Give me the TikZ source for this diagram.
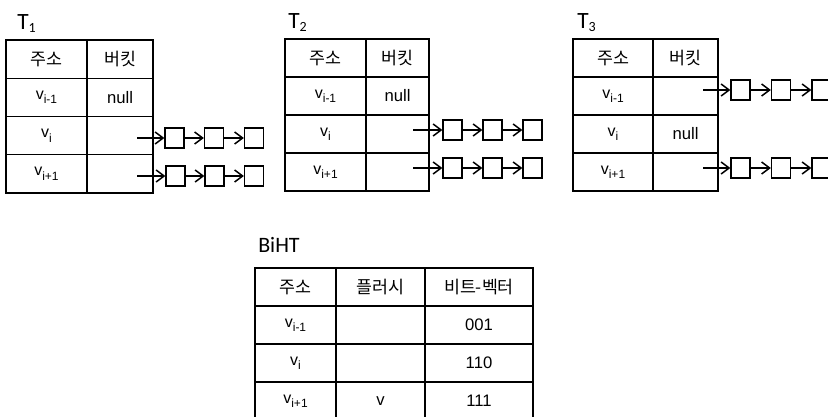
\documentclass[tikz,border=0pt]{standalone}
\usepackage{fontspec}
\setmainfont{Liberation Sans}
\newfontfamily\krfont{Noto Sans CJK KR}
\newfontfamily\labelfont{Carlito}
\usetikzlibrary{arrows.meta}

% variable name with a lowered index, e.g. v_{i-1}
\newcommand\vidx[1]{{\fontsize{12}{13}\selectfont v}\raisebox{-0.5ex}{\fontsize{9}{10}\selectfont #1}}
% table caption with a subscript index
\newcommand\tname[1]{T\raisebox{-0.25ex}{\fontsize{10.5}{11}\selectfont #1}}

\tikzset{
  cell/.style 2 args={draw, line width=1pt, inner sep=0pt,
    minimum width=#1*0.75pt, minimum height=#2*0.75pt,
    font=\fontsize{12.5}{14}\selectfont},
  hdr/.style={font=\krfont\fontsize{13}{15}\selectfont},
  caption/.style={anchor=base west, inner sep=0pt, font=\labelfont\fontsize{17.5}{20}\selectfont},
  linkbox/.style={draw, line width=1pt, inner sep=0pt,
    minimum width=19*0.75pt, minimum height=20*0.75pt},
  ptr/.style={line width=1.1pt, -{Straight Barb[length=6pt, width=9pt, line width=1.1pt]}}
}

\begin{document}
\begin{tikzpicture}[x=0.75pt, y=-0.75pt]
\clip (0,0) rectangle (828,417);
\fill[white] (0,0) rectangle (828,417);

% ---------------- T1 ----------------
\node[caption] (t1cap) at (17,30) {\tname{1}};
\node[cell={81}{38.25}, hdr] (t1h1) at (46.5,59.1) {주소};
\node[cell={66}{38.25}, hdr] (t1h2) at (120,59.1) {버킷};
\node[cell={81}{38.25}] (t1a1) at (46.5,97.4) {\vidx{i-1}};
\node[cell={66}{38.25}] (t1b1) at (120,97.4) {null};
\node[cell={81}{38.25}] (t1a2) at (46.5,135.6) {\vidx{i}};
\node[cell={66}{38.25}] (t1b2) at (120,135.6) {};
\node[cell={81}{38.25}] (t1a3) at (46.5,173.9) {\vidx{i+1}};
\node[cell={66}{38.25}] (t1b3) at (120,173.9) {};

\coordinate (t1s2) at (137,138);
\node[linkbox] (t1n21) at (174.5,138) {};
\node[linkbox] (t1n22) at (214,138) {};
\node[linkbox] (t1n23) at (254,138) {};
\draw[ptr] (t1s2) -- (t1n21.west);
\draw[ptr] (t1n21.east) -- (t1n22.west);
\draw[ptr] (t1n22.east) -- (t1n23.west);

\coordinate (t1s3) at (137,176);
\node[linkbox] (t1n31) at (175.5,176) {};
\node[linkbox] (t1n32) at (214.5,176) {};
\node[linkbox] (t1n33) at (254,176) {};
\draw[ptr] (t1s3) -- (t1n31.west);
\draw[ptr] (t1n31.east) -- (t1n32.west);
\draw[ptr] (t1n32.east) -- (t1n33.west);

% ---------------- T2 ----------------
\node[caption] (t2cap) at (288,29) {\tname{2}};
\node[cell={81}{38}, hdr] (t2h1) at (325.5,58) {주소};
\node[cell={63}{38}, hdr] (t2h2) at (397.5,58) {버킷};
\node[cell={81}{38}] (t2a1) at (325.5,96) {\vidx{i-1}};
\node[cell={63}{38}] (t2b1) at (397.5,96) {null};
\node[cell={81}{38}] (t2a2) at (325.5,134) {\vidx{i}};
\node[cell={63}{38}] (t2b2) at (397.5,134) {};
\node[cell={81}{38}] (t2a3) at (325.5,172) {\vidx{i+1}};
\node[cell={63}{38}] (t2b3) at (397.5,172) {};

\coordinate (t2s2) at (413,130);
\node[linkbox] (t2n21) at (452.5,130) {};
\node[linkbox] (t2n22) at (492.5,130) {};
\node[linkbox] (t2n23) at (532.5,130) {};
\draw[ptr] (t2s2) -- (t2n21.west);
\draw[ptr] (t2n21.east) -- (t2n22.west);
\draw[ptr] (t2n22.east) -- (t2n23.west);

\coordinate (t2s3) at (413,168);
\node[linkbox] (t2n31) at (452.5,168) {};
\node[linkbox] (t2n32) at (492.5,168) {};
\node[linkbox] (t2n33) at (532.5,168) {};
\draw[ptr] (t2s3) -- (t2n31.west);
\draw[ptr] (t2n31.east) -- (t2n32.west);
\draw[ptr] (t2n32.east) -- (t2n33.west);

% ---------------- T3 ----------------
\node[caption] (t3cap) at (577,29) {\tname{3}};
\node[cell={80}{38}, hdr] (t3h1) at (613,58) {주소};
\node[cell={65}{38}, hdr] (t3h2) at (685.5,58) {버킷};
\node[cell={80}{38}] (t3a1) at (613,96) {\vidx{i-1}};
\node[cell={65}{38}] (t3b1) at (685.5,96) {};
\node[cell={80}{38}] (t3a2) at (613,134) {\vidx{i}};
\node[cell={65}{38}] (t3b2) at (685.5,134) {null};
\node[cell={80}{38}] (t3a3) at (613,172) {\vidx{i+1}};
\node[cell={65}{38}] (t3b3) at (685.5,172) {};

\coordinate (t3s1) at (703,90);
\node[linkbox] (t3n11) at (740.5,90) {};
\node[linkbox] (t3n12) at (781,90) {};
\node[linkbox] (t3n13) at (821.5,90) {};
\draw[ptr] (t3s1) -- (t3n11.west);
\draw[ptr] (t3n11.east) -- (t3n12.west);
\draw[ptr] (t3n12.east) -- (t3n13.west);

\coordinate (t3s3) at (703,168);
\node[linkbox] (t3n31) at (740.5,168) {};
\node[linkbox] (t3n32) at (781,168) {};
\node[linkbox] (t3n33) at (821.5,168) {};
\draw[ptr] (t3s3) -- (t3n31.west);
\draw[ptr] (t3n31.east) -- (t3n32.west);
\draw[ptr] (t3n32.east) -- (t3n33.west);

% ---------------- BiHT ----------------
\node[caption, font=\labelfont\fontsize{16.5}{18}\selectfont] (bcap) at (258,252) {BiHT};
\node[cell={81}{38}, hdr] (bh1) at (295.5,287) {주소};
\node[cell={89}{38}, hdr] (bh2) at (380.5,287) {플러시};
\node[cell={108}{38}, hdr] (bh3) at (479,287) {비트-벡터};
\node[cell={81}{38}] (ba1) at (295.5,325) {\vidx{i-1}};
\node[cell={89}{38}] (bb1) at (380.5,325) {};
\node[cell={108}{38}] (bc1) at (479,325) {001};
\node[cell={81}{38}] (ba2) at (295.5,363) {\vidx{i}};
\node[cell={89}{38}] (bb2) at (380.5,363) {};
\node[cell={108}{38}] (bc2) at (479,363) {110};
\node[cell={81}{38}] (ba3) at (295.5,401) {\vidx{i+1}};
\node[cell={89}{38}] (bb3) at (380.5,401) {v};
\node[cell={108}{38}] (bc3) at (479,401) {111};
\end{tikzpicture}
\end{document}
